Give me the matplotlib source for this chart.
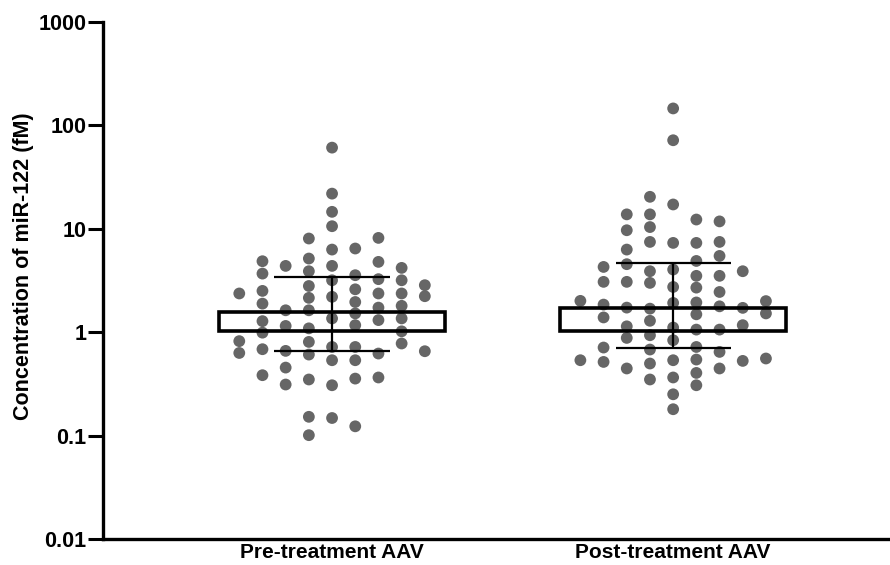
import numpy as np
import matplotlib.pyplot as plt

plt.rcParams['font.family'] = ['Liberation Sans', 'DejaVu Sans']
plt.rcParams['font.weight'] = 'bold'

groups = ['Pre-treatment AAV', 'Post-treatment AAV']

# miR-122 values (fM), one inner list per dot column, left to right
pre_cols = [
    [2.37, 0.82, 0.63],
    [4.86, 3.69, 2.51, 1.89, 1.28, 0.99, 0.685, 0.384],
    [4.38, 1.63, 1.15, 0.66, 0.455, 0.312],
    [8.06, 5.16, 3.89, 2.8, 2.15, 1.63, 1.09, 0.806, 0.608, 0.349, 0.152, 0.101],
    [61.0, 21.9, 14.6, 10.6, 6.3, 4.38, 3.18, 2.2, 1.36, 0.72, 0.536, 0.307, 0.148],
    [6.45, 3.56, 2.6, 1.96, 1.52, 1.17, 0.72, 0.536, 0.356, 0.123],
    [8.17, 4.79, 3.26, 2.37, 1.73, 1.31, 0.622, 0.365],
    [4.19, 3.18, 2.37, 1.8, 1.36, 1.02, 0.778],
    [2.85, 2.23, 0.655],
]
post_cols = [
    [2.01, 0.536],
    [4.28, 3.07, 1.85, 1.39, 0.711, 0.516],
    [13.8, 9.69, 6.3, 4.55, 3.07, 1.73, 1.14, 0.881, 0.446],
    [20.4, 13.8, 10.4, 7.47, 3.89, 3.0, 1.69, 1.29, 0.935, 0.68, 0.498, 0.349],
    [146.0, 71.9, 17.2, 7.31, 4.04, 2.74, 1.92, 1.11, 0.837, 0.536, 0.365, 0.251, 0.18],
    [12.3, 7.31, 4.89, 3.51, 2.7, 1.94, 1.49, 1.06, 0.72, 0.544, 0.404, 0.307],
    [11.8, 7.47, 5.47, 3.51, 2.45, 1.78, 1.06, 0.645, 0.446],
    [3.89, 1.72, 1.17, 0.528],
    [2.0, 1.52, 0.557],
]

box_low = [1.03, 1.03]
box_high = [1.57, 1.73]
whisk_low = [0.66, 0.705]
whisk_high = [3.40, 4.62]

fig = plt.figure(figsize=(8.9, 5.65), dpi=100)
ax = fig.add_axes([0.1157, 0.046, 0.8823, 0.915])

col_step = 0.068
for gi, cols in enumerate([pre_cols, post_cols]):
    n = len(cols)
    for ci, vals in enumerate(cols):
        xpos = gi + (ci - (n - 1) / 2) * col_step
        ax.scatter(np.full(len(vals), xpos), vals, s=72, color='#666666',
                   edgecolors='none', zorder=2)

# floating box plus whiskers
x = np.arange(len(groups))
ax.bar(x, np.array(box_high) - np.array(box_low), bottom=box_low, width=0.662,
       facecolor='none', edgecolor='black', linewidth=2.6, zorder=3)
ax.vlines(x, whisk_low, whisk_high, color='black', linewidth=1.6, zorder=3)
ax.hlines(whisk_low, x - 0.169, x + 0.169, color='black', linewidth=1.6, zorder=3)
ax.hlines(whisk_high, x - 0.169, x + 0.169, color='black', linewidth=1.6, zorder=3)

ax.set_yscale('log')
ax.set_ylim(0.01, 1000)
ax.set_xlim(-0.6716, 1.6305)
ax.set_yticks([0.01, 0.1, 1, 10, 100, 1000])
ax.set_yticklabels(['0.01', '0.1', '1', '10', '100', '1000'])
ax.minorticks_off()
ax.set_xticks(x)
ax.set_xticklabels(groups, fontsize=15, fontweight='bold')
ax.tick_params(axis='x', length=0, pad=3)
ax.tick_params(axis='y', length=11, width=2.2, labelsize=15.5, pad=1)
ax.set_ylabel('Concentration of miR-122 (fM)', fontsize=15.5, fontweight='bold')
ax.yaxis.set_label_coords(-0.088, 0.528)

for side in ['top', 'right']:
    ax.spines[side].set_visible(False)
for side in ['left', 'bottom']:
    ax.spines[side].set_linewidth(2.4)

fig.savefig('out.png', dpi=100)
